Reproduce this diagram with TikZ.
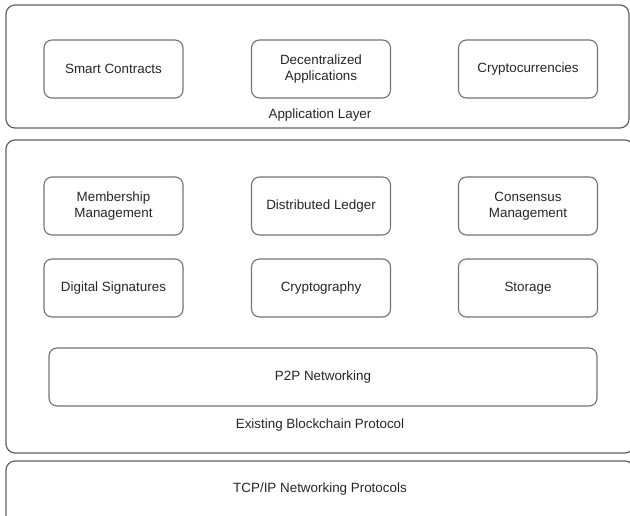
\documentclass[tikz,border=0pt]{standalone}
\usepackage{fontspec}
\setmainfont{Liberation Sans}
\begin{document}
\begin{tikzpicture}[x=1pt,y=-1pt,
  txt/.style={font=\fontsize{13.4}{16}\selectfont, text=black!85, align=center, inner sep=0pt},
  box/.style={txt, draw=black!55, line width=1.1pt, rounded corners=8pt, minimum width=139pt, minimum height=58pt},
  layer/.style={draw=black!62, line width=1.2pt, rounded corners=9pt, inner sep=0pt}]
\useasboundingbox (0,0) rectangle (630,515);
\clip (0,0) rectangle (630,515);
% outer layers
\node[layer, minimum width=623pt, minimum height=123pt] (app) at (317.5,66.5) {};
\node[layer, minimum width=628pt, minimum height=313pt] (chain) at (320,296.5) {};
\node[layer, minimum width=628pt, minimum height=64pt] (tcp) at (320,493) {};
% application layer
\node[box] (sc) at (113.5,69) {Smart Contracts};
\node[box] (da) at (321,69) {Decentralized\\Applications};
\node[box] (cc) at (528,69) {Cryptocurrencies};
\node[txt] (applbl) at (320,115) {Application Layer};
% blockchain protocol
\node[box] (mm) at (113.5,206) {Membership\\Management};
\node[box] (dl) at (321,206) {Distributed Ledger};
\node[box] (cm) at (528,206) {Consensus\\Management};
\node[box] (ds) at (113.5,288) {Digital Signatures};
\node[box] (cr) at (321,288) {Cryptography};
\node[box] (st) at (528,288) {Storage};
\node[box, minimum width=548pt] (p2p) at (323,377) {P2P Networking};
\node[txt] (chainlbl) at (320,425) {Existing Blockchain Protocol};
% tcp/ip
\node[txt] (tcplbl) at (320,489) {TCP/IP Networking Protocols};
\end{tikzpicture}
\end{document}
